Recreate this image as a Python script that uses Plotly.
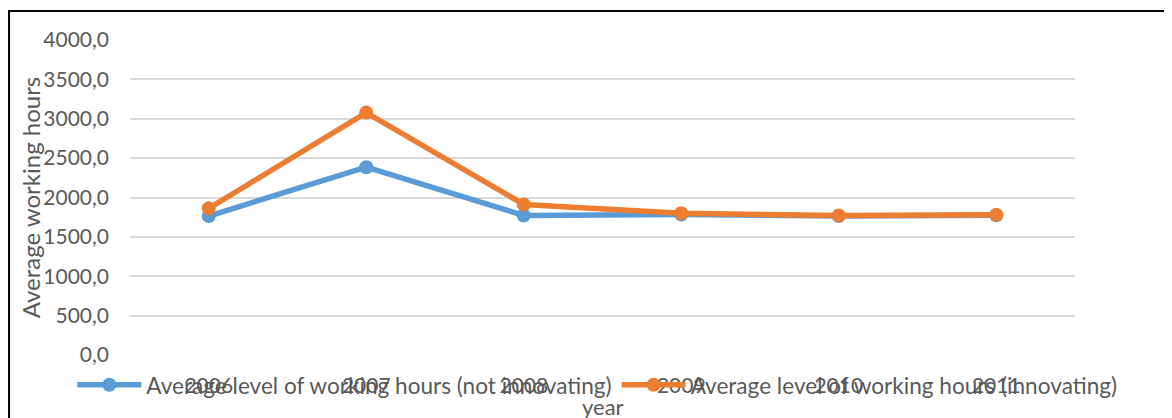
"""
Average working hours per year: innovating vs. not innovating firms.
"""
import plotly.graph_objects as go

years = ['2006', '2007', '2008', '2009', '2010', '2011']
not_innovating = [1765, 2385, 1772, 1785, 1765, 1775]
innovating = [1862, 3078, 1912, 1800, 1772, 1780]
y_ticks = [0, 500, 1000, 1500, 2000, 2500, 3000, 3500, 4000]

FONT = 'Lato'
GREY = '#595959'

fig = go.Figure()

fig.add_trace(go.Scatter(
    name='Average level of working hours (not innovating)',
    x=years, y=not_innovating,
    mode='lines+markers',
    line=dict(color='#5B9BD5', width=5.5),
    marker=dict(size=14, color='#5B9BD5'),
))
fig.add_trace(go.Scatter(
    name='Average level of working hours (innovating)',
    x=years, y=innovating,
    mode='lines+markers',
    line=dict(color='#ED7D31', width=5.5),
    marker=dict(size=14, color='#ED7D31'),
))

# Rahmen um das ganze Diagramm (wie Excel-Export)
fig.add_shape(
    type='rect', xref='paper', yref='paper',
    x0=-0.128, x1=1.2, y0=-0.3, y1=1.092,
    line=dict(color='black', width=2),
)

# y-Titel als Annotation, damit er wie im Original die Ticklabels überlappt
fig.add_annotation(
    text='Average working hours', textangle=-90,
    xref='paper', yref='paper', x=-0.105, y=0.5,
    xanchor='center', yanchor='middle', showarrow=False,
    font=dict(family=FONT, size=24, color=GREY),
)
fig.add_annotation(
    text='year',
    xref='paper', yref='paper', x=0.5, y=-0.165,
    xanchor='center', yanchor='middle', showarrow=False,
    font=dict(family=FONT, size=22, color=GREY),
)

# Seite hat 8px Body-Rand -> Figur entsprechend kleiner
fig.update_layout(
    width=1164, height=410,
    margin=dict(l=122, r=97, t=32, b=62),
    paper_bgcolor='white', plot_bgcolor='white',
    font=dict(family=FONT, size=21, color=GREY),
    showlegend=True,
    legend=dict(
        orientation='h', x=-0.061, xanchor='left', y=-0.092, yanchor='middle',
        bgcolor='rgba(0,0,0,0)', font=dict(size=22.6, color=GREY),
        itemwidth=64, tracegroupgap=0,
    ),
)
fig.update_xaxes(
    type='category', range=[-0.5, 5.5],
    showgrid=False, showline=False, zeroline=False,
    ticks='', ticklabelstandoff=16,
    tickfont=dict(family=FONT, size=21, color=GREY),
)
fig.update_yaxes(
    range=[0, 4000], tickvals=y_ticks,
    ticktext=[f'{v},0' for v in y_ticks],
    showgrid=True, gridcolor='#d9d9d9', gridwidth=1.5,
    zeroline=False, showline=False, ticks='', ticklabelstandoff=20,
    tickfont=dict(family=FONT, size=21, color=GREY),
)

fig.write_html('out.html')
